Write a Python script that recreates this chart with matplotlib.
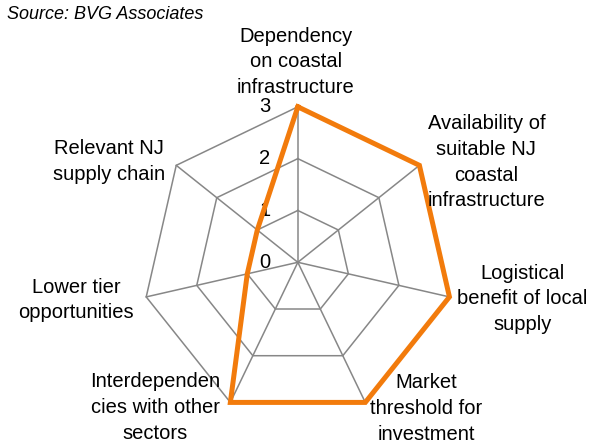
import numpy as np
import matplotlib
matplotlib.use("Agg")
import matplotlib.pyplot as plt

plt.rcParams['font.family'] = ['Liberation Sans', 'DejaVu Sans']

# data
categories = ["Dependency\non coastal\ninfrastructure",
              "Availability of\nsuitable NJ\ncoastal\ninfrastructure",
              "Logistical\nbenefit of local\nsupply",
              "Market\nthreshold for\ninvestment",
              "Interdependen\ncies with other\nsectors",
              "Lower tier\nopportunities",
              "Relevant NJ\nsupply chain"]
scores = [3, 3, 3, 3, 3, 1, 1]
levels = [0, 1, 2, 3]

# label offsets in pixels from the end of each spoke
offsets = [(-2, 45), (67, 3), (73, -2), (61, -6), (-75, -5), (-70, -3), (-67, 4)]

n = len(categories)
theta = np.arange(n) * 2 * np.pi / n
theta_c = np.append(theta, theta[0])

fig = plt.figure(figsize=(5.95, 4.45), dpi=100)
ax = fig.add_axes([0.2392, 0.0611, 0.5227, 0.6989], projection='polar')
ax.set_theta_zero_location('N')
ax.set_theta_direction(-1)
ax.set_ylim(0, 3)
ax.set_axis_off()

grey = '#878787'
for lv in levels[1:]:
    ax.plot(theta_c, [lv] * (n + 1), color=grey, lw=1.1, zorder=1, clip_on=False)
for t in theta:
    ax.plot([t, t], [0, levels[-1]], color=grey, lw=1.1, zorder=1, clip_on=False)

vals = scores + scores[:1]
ax.plot(theta_c, vals, color='#F27B0C', lw=3.6, solid_joinstyle='miter',
        zorder=3, clip_on=False)

for lv in levels:
    ax.annotate(str(lv), xy=(0, lv), xytext=(-33, 0), textcoords='offset pixels',
                ha='center', va='center', fontsize=14.5, color='black', zorder=2)

for t, lab, off in zip(theta, categories, offsets):
    ax.annotate(lab, xy=(t, levels[-1]), xytext=off, textcoords='offset pixels',
                ha='center', va='center', multialignment='center',
                fontsize=14.5, color='black', linespacing=1.45)

fig.text(0.012, 0.968, "Source: BVG Associates", fontsize=13, style='italic',
         ha='left', va='center', color='black')

fig.savefig("out.png", dpi=100)
